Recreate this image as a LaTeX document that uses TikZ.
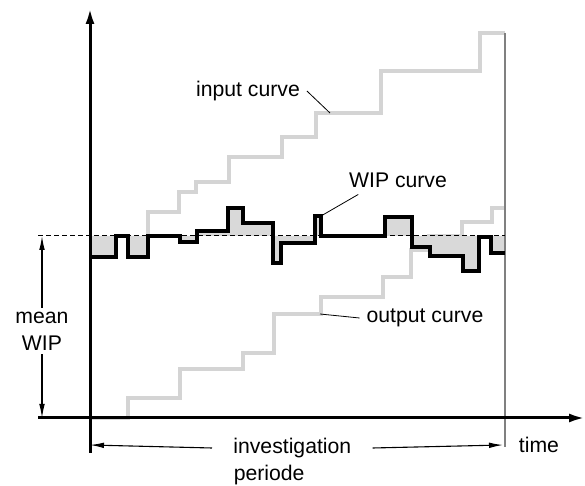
\documentclass[tikz,border=0pt]{standalone}
\usepackage{fontspec}
\setmainfont{Liberation Sans}
\usepackage{tikz}
\usetikzlibrary{arrows.meta}
\tikzset{>=latex}
\tikzstyle{axis}=[line width=1.5pt,-{Latex[length=8,width=4.5]}]
\tikzstyle{dimline}=[line width=0.55pt,-{Latex[length=7,width=2.8]}]
\tikzstyle{leader}=[line width=0.4pt]
\tikzstyle{stairs}=[line width=1.7pt,black!17]
\tikzstyle{wip}=[line width=2pt,black]
\tikzstyle{label}=[font=\fontsize{10.6}{13.3}\selectfont]
\newcommand\wipcurve{(90,257) -- (116,257) -- (116,236) -- (128,236) -- (128,257) -- (148,257) -- (148,236) --
  (180,236) -- (180,242) -- (197,242) -- (197,231) -- (228,231) -- (228,208) -- (243,208) -- (243,223) --
  (273,223) -- (273,263) -- (281,263) -- (281,243) -- (315,243) -- (315,216) -- (321,216) -- (321,236) --
  (385,236) -- (385,217) -- (412,217) -- (412,247) -- (430,247) -- (430,256) -- (463,256) -- (463,271) --
  (479,271) -- (479,237) -- (491,237) -- (491,253) -- (505,253)}
\begin{document}
\begin{tikzpicture}[x=0.5pt,y=-0.5pt]
  \useasboundingbox (0,0) rectangle (585,486);

  \draw[stairs] % input curve
    (148,236) -- (148,212) -- (179,212) -- (179,192) -- (196,192) -- (196,182) -- (229,182) -- (229,157) --
    (282,157) -- (282,137) -- (316,137) -- (316,113) -- (381,113) -- (381,71) -- (480,71) -- (480,33) -- (505,33);
  \draw[stairs] % output curve
    (90,418) -- (128,418) -- (128,398) -- (180,398) -- (180,369) -- (243,369) -- (243,353) -- (274,353) --
    (274,314) -- (321,314) -- (321,297) -- (383,297) -- (383,277) -- (411,277) -- (411,250) -- (429,250) --
    (429,236) -- (462,236) -- (462,222) -- (492,222) -- (492,208) -- (505,208);

  \fill[black!15] (90,236) -- \wipcurve -- (505,236) -- cycle; % area between WIP and mean

  \draw[black!50,line width=0.6pt] (505,33) -- (505,447);
  \draw[dashed,line width=0.5pt,dash pattern=on 2.5pt off 1.5pt] (38,236) -- (505,236);
  \draw[wip] \wipcurve;

  % axes
  \draw[axis] (90,453) -- (90,8);
  \draw[axis] (38,418) -- (585,418);

  % labels
  \node[label] (inlbl) at (248,91) {input curve};
  \node[label] (wiplbl) at (398,180) {WIP curve};
  \node[label] (outlbl) at (425,318) {output curve};
  \coordinate (inpt) at (330,113);
  \coordinate (wippt) at (321,216);
  \coordinate (outpt) at (320,314);
  \draw[leader] (inlbl.east) -- (inpt);
  \draw[leader] (wiplbl.200) -- (wippt);
  \draw[leader] (outlbl.west) -- (outpt);

  % mean WIP
  \node[label,align=center,inner ysep=2pt] (mean) at (42,331) {mean\\WIP};
  \coordinate (meantop) at (42,236);
  \coordinate (meanbot) at (42,418);
  \draw[dimline] (mean.north) -- (meantop);
  \draw[dimline] (mean.south) -- (meanbot);

  % investigation periode
  \node[label,anchor=west,inner xsep=10.5pt] (inv) at (212,448) {investigation};
  \node[label,anchor=west,inner sep=0pt] (per) at (inv.text |- 0,475) {periode};
  \coordinate (invleft) at (90,445);
  \coordinate (invright) at (503,445);
  \draw[dimline] (inv.west) -- (invleft);
  \draw[dimline] (inv.east) -- (invright);
  \node[label] (time) at (539,445) {time};
\end{tikzpicture}
\end{document}
